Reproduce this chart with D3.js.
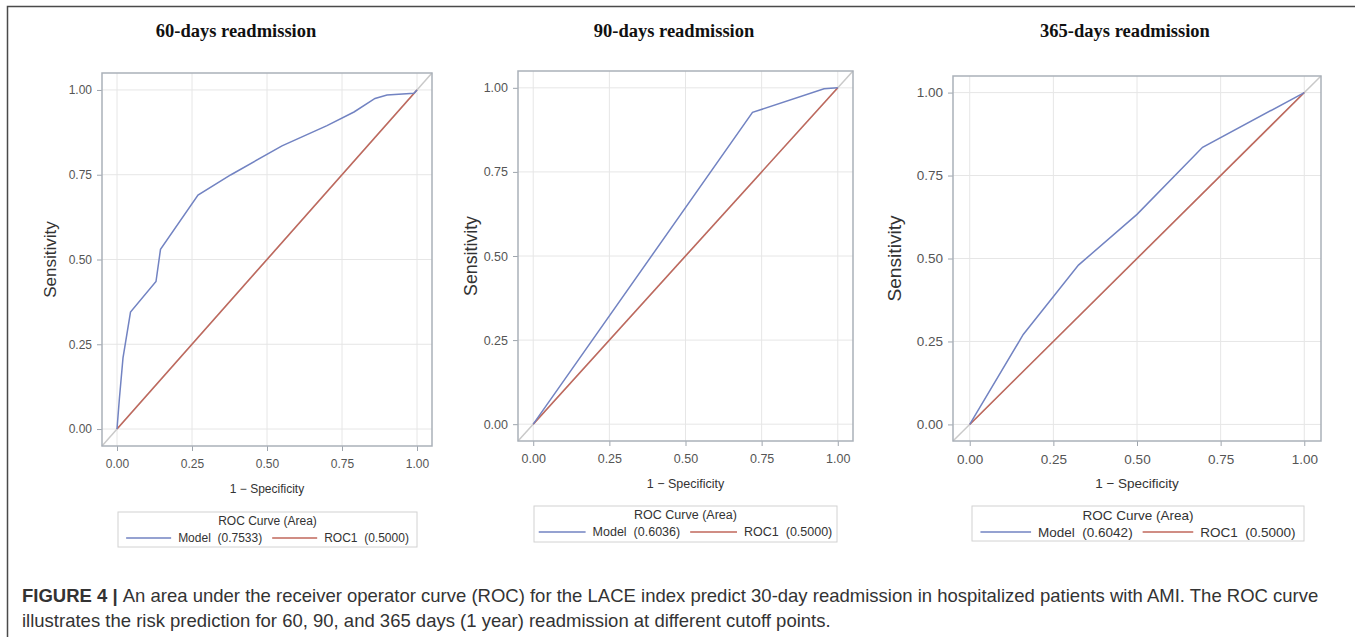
<!DOCTYPE html>
<html>
<head>
<meta charset="utf-8">
<script src="https://cdn.jsdelivr.net/npm/d3@7"></script>
<style>
  body { margin: 0; background: #fff; }
  svg { display: block; }
</style>
</head>
<body>
<svg id="fig" width="1355" height="637"></svg>
<script>
// values
const titles = ["60-days readmission", "90-days readmission", "365-days readmission"];
const model60X = [0, 0.008, 0.02, 0.045, 0.13, 0.145, 0.27, 0.38, 0.55, 0.70, 0.79, 0.86, 0.90, 0.99, 1];
const model60Y = [0, 0.09, 0.21, 0.345, 0.435, 0.53, 0.69, 0.75, 0.835, 0.895, 0.935, 0.975, 0.985, 0.99, 1];
const model90X = [0, 0.72, 0.955, 1];
const model90Y = [0, 0.927, 0.997, 1];
const model365X = [0, 0.16, 0.325, 0.50, 0.696, 1];
const model365Y = [0, 0.271, 0.48, 0.633, 0.835, 1];
const refX = [0, 1];
const refY = [0, 1];
const modelArea = ["0.7533", "0.6036", "0.6042"];
const refArea = "0.5000";
const ticks = [0, 0.25, 0.5, 0.75, 1];
const captionLines = [
  "An area under the receiver operator curve (ROC) for the LACE index predict 30-day readmission in hospitalized patients with AMI. The ROC curve",
  "illustrates the risk prediction for 60, 90, and 365 days (1 year) readmission at different cutoff points."
];

// layout of each panel (frame = left, top, right, bottom)
const panels = [
  { frame: [102, 73, 432, 446], titleX: 236, font: 12, yTitleOff: 52, legend: [118, 512, 417, 547] },
  { frame: [518, 71, 853, 441], titleX: 674, font: 12.5, yTitleOff: 47, legend: [534, 506, 837, 542] },
  { frame: [953, 76, 1321, 441], titleX: 1125, font: 13.5, yTitleOff: 59, legend: [972, 506, 1304, 541] }
];

const blue = "#7283c2";
const red = "#c0675b";
const series = [[model60X, model60Y], [model90X, model90Y], [model365X, model365Y]];

const svg = d3.select("#fig");

// figure border (top and left only)
svg.append("path")
  .attr("d", "M7.5,637 V6.5 H1355")
  .attr("fill", "none")
  .attr("stroke", "#4a4a4a")
  .attr("stroke-width", 1.5);

panels.forEach((p, i) => {
  const [x0, y0, x1, y1] = p.frame;
  const x = d3.scaleLinear().domain([-0.05, 1.05]).range([x0, x1]);
  const y = d3.scaleLinear().domain([-0.05, 1.05]).range([y1, y0]);
  const g = svg.append("g");
  const fs = p.font;

  g.append("text")
    .attr("x", p.titleX)
    .attr("y", 37)
    .attr("text-anchor", "middle")
    .attr("fill", "#111")
    .style("font", "bold 18.5px 'Liberation Serif', 'Times New Roman', serif")
    .text(titles[i]);

  // grid
  g.selectAll(".gx").data(ticks).enter().append("line")
    .attr("x1", d => x(d)).attr("x2", d => x(d))
    .attr("y1", y0).attr("y2", y1)
    .attr("stroke", "#e6e6e6");
  g.selectAll(".gy").data(ticks).enter().append("line")
    .attr("y1", d => y(d)).attr("y2", d => y(d))
    .attr("x1", x0).attr("x2", x1)
    .attr("stroke", "#e6e6e6");

  // axes
  let ax = g.append("g")
    .attr("transform", `translate(0,${y1})`)
    .call(d3.axisBottom(x).tickValues(ticks).tickFormat(d3.format(".2f")).tickSize(5).tickPadding(8));
  let ay = g.append("g")
    .attr("transform", `translate(${x0},0)`)
    .call(d3.axisLeft(y).tickValues(ticks).tickFormat(d3.format(".2f")).tickSize(5).tickPadding(5));
  [ax, ay].forEach(a => {
    a.select(".domain").remove();
    a.selectAll(".tick line").attr("stroke", "#9ea5ad");
    a.selectAll(".tick text")
      .attr("fill", "#555")
      .style("font-family", "'Liberation Sans', Arial, sans-serif")
      .style("font-size", fs + "px");
  });

  // diagonal reference across the whole frame
  g.append("line")
    .attr("x1", x(-0.05)).attr("y1", y(-0.05))
    .attr("x2", x(1.05)).attr("y2", y(1.05))
    .attr("stroke", "#c9c9c9")
    .attr("stroke-width", 1.5);

  // frame
  g.append("rect")
    .attr("x", x0).attr("y", y0)
    .attr("width", x1 - x0).attr("height", y1 - y0)
    .attr("fill", "none")
    .attr("stroke", "#aab1b9")
    .attr("stroke-width", 1.5);

  const line = d3.line().x(d => x(d[0])).y(d => y(d[1]));
  g.append("path")
    .datum(d3.zip(refX, refY))
    .attr("d", line)
    .attr("fill", "none")
    .attr("stroke", red)
    .attr("stroke-width", 1.5);
  g.append("path")
    .datum(d3.zip(series[i][0], series[i][1]))
    .attr("d", line)
    .attr("fill", "none")
    .attr("stroke", blue)
    .attr("stroke-width", 1.5);

  // axis titles
  g.append("text")
    .attr("x", (x(0) + x(1)) / 2)
    .attr("y", y1 + 47)
    .attr("text-anchor", "middle")
    .attr("fill", "#333")
    .style("font", fs + "px 'Liberation Sans', Arial, sans-serif")
    .text("1 \u2212 Specificity");
  g.append("text")
    .attr("transform", `translate(${x0 - p.yTitleOff},${(y0 + y1) / 2}) rotate(-90)`)
    .attr("text-anchor", "middle")
    .attr("dominant-baseline", "central")
    .attr("fill", "#333")
    .style("font", (fs * 1.42) + "px 'Liberation Sans', Arial, sans-serif")
    .text("Sensitivity");

  // legend
  const [lx0, ly0, lx1, ly1] = p.legend;
  g.append("rect")
    .attr("x", lx0).attr("y", ly0)
    .attr("width", lx1 - lx0).attr("height", ly1 - ly0)
    .attr("fill", "#fff")
    .attr("stroke", "#d2d2d2");
  g.append("text")
    .attr("x", (lx0 + lx1) / 2)
    .attr("y", ly0 + 9)
    .attr("text-anchor", "middle")
    .attr("dominant-baseline", "central")
    .attr("fill", "#333")
    .style("font", fs + "px 'Liberation Sans', Arial, sans-serif")
    .text("ROC Curve (Area)");

  const entries = [
    { label: `Model  (${modelArea[i]})`, color: blue },
    { label: `ROC1  (${refArea})`, color: red }
  ];
  const sw = 45 * fs / 12, gap = 7, sep = 10;
  const eg = g.append("g");
  let cx = 0;
  entries.forEach((e, k) => {
    eg.append("line")
      .attr("x1", cx).attr("x2", cx + sw)
      .attr("y1", ly0 + 26).attr("y2", ly0 + 26)
      .attr("stroke", e.color).attr("stroke-width", 1.5);
    const t = eg.append("text")
      .attr("x", cx + sw + gap)
      .attr("y", ly0 + 26)
      .attr("dominant-baseline", "central")
      .attr("fill", "#333")
      .style("white-space", "pre")
      .style("font", fs + "px 'Liberation Sans', Arial, sans-serif")
      .text(e.label);
    cx += sw + gap + t.node().getComputedTextLength() + (k === 0 ? sep : 0);
  });
  eg.attr("transform", `translate(${(lx0 + lx1) / 2 - cx / 2},0)`);
});

// caption
const cap = svg.append("text")
  .attr("fill", "#333")
  .style("font", "18.5px 'Liberation Sans', Arial, sans-serif");
const l1 = cap.append("tspan").attr("x", 22).attr("y", 602);
l1.append("tspan").attr("font-weight", "bold").text("FIGURE 4 | ");
l1.append("tspan").text(captionLines[0]);
cap.append("tspan").attr("x", 22).attr("y", 627).text(captionLines[1]);
</script>
</body>
</html>
